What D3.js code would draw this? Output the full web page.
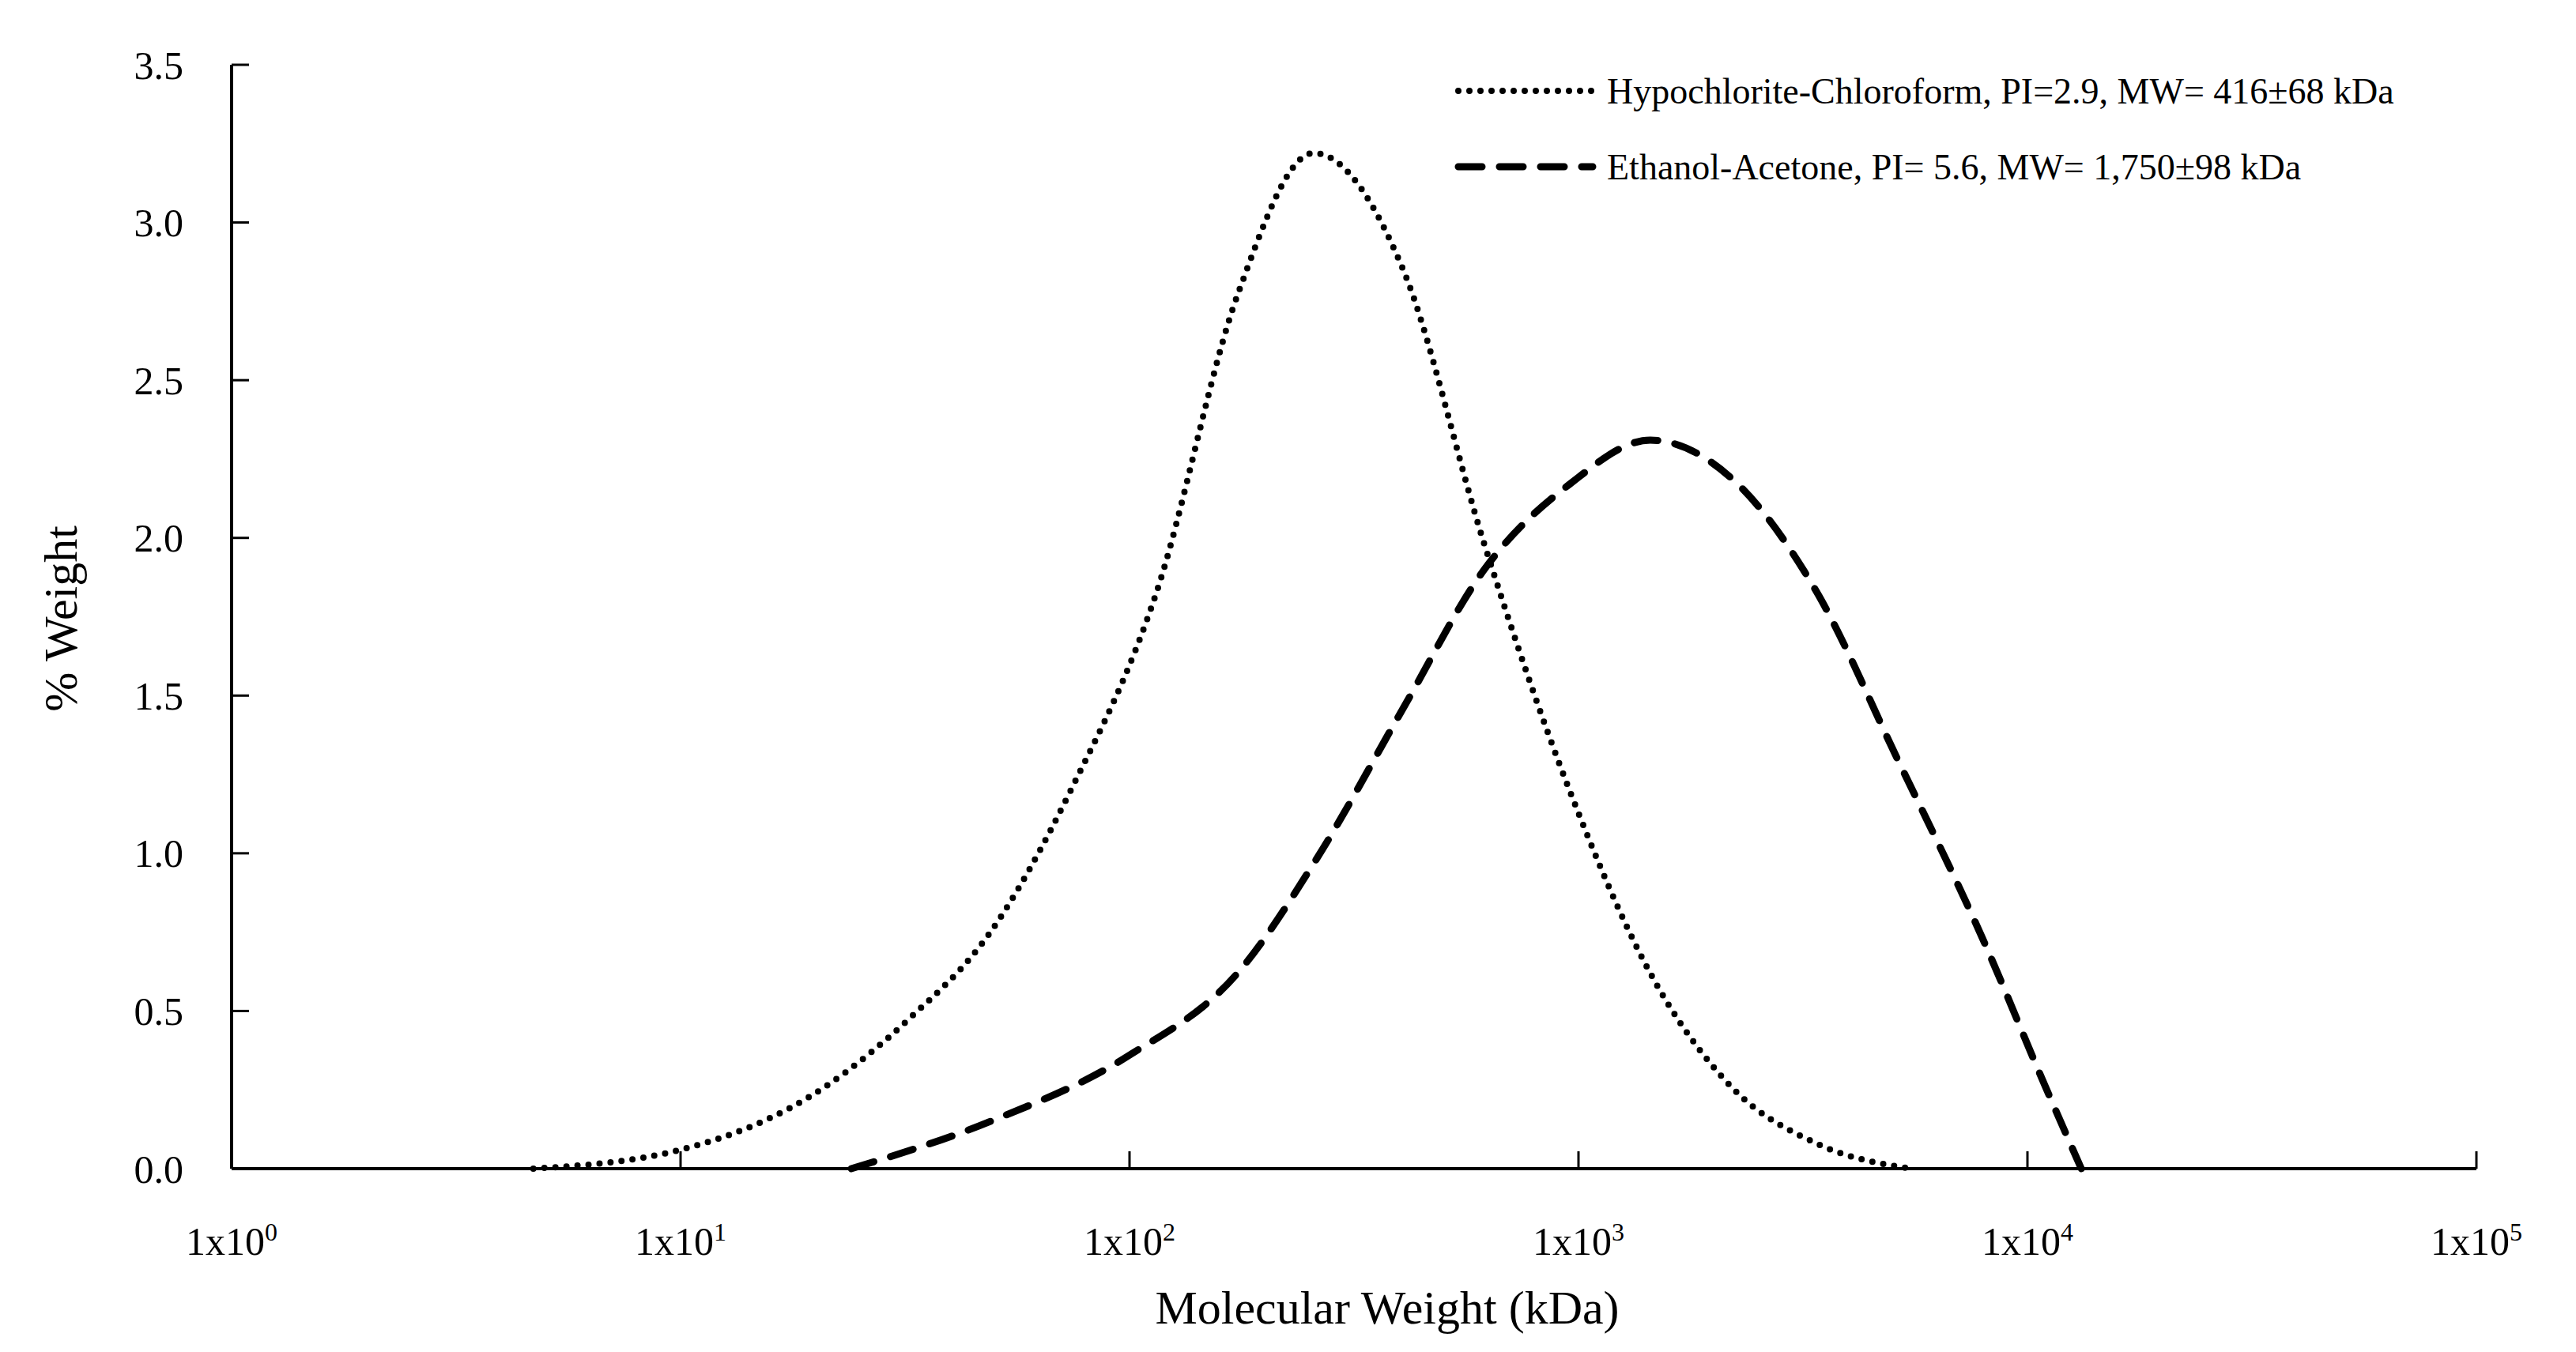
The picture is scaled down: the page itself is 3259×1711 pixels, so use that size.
<!DOCTYPE html>
<html><head><meta charset="utf-8">
<script src="https://cdn.jsdelivr.net/npm/d3@7"></script>
<style>body{margin:0;background:#fff}svg{display:block}</style>
</head><body><svg id="c"></svg>
<script>
// Hypochlorite-Chloroform (dotted)
const hypoMW = [4.7, 10, 21, 32, 49, 74, 115, 174, 257, 407, 617, 955, 1445, 2188, 3388, 5495];
const hypoW = [0, 0.06, 0.26, 0.47, 0.75, 1.2, 1.83, 2.77, 3.22, 2.85, 1.98, 1.2, 0.62, 0.26, 0.08, 0];
// Ethanol-Acetone (dashed)
const ethMW = [24, 49, 100, 174, 263, 407, 617, 955, 1445, 2188, 3388, 5129, 7943, 10965, 13183];
const ethW = [0, 0.15, 0.36, 0.62, 0.99, 1.46, 1.9, 2.17, 2.31, 2.19, 1.83, 1.3, 0.73, 0.26, 0];
const xTicks = [1, 10, 100, 1000, 10000, 100000];
const yTicks = [0, 0.5, 1, 1.5, 2, 2.5, 3, 3.5];
const legendLabels = ["Hypochlorite-Chloroform, PI=2.9, MW= 416±68 kDa", "Ethanol-Acetone, PI= 5.6, MW= 1,750±98 kDa"];

const W = 3259, H = 1711;
const font = "'Liberation Serif', 'DejaVu Serif', serif";
const svg = d3.select("#c").attr("width", W).attr("height", H);
const x = d3.scaleLog().domain([1, 100000]).range([293, 3133]);
const y = d3.scaleLinear().domain([0, 3.5]).range([1479, 82]);

const g = svg.append("g");
g.append("line").attr("x1", x(1)).attr("x2", x(1)).attr("y1", y(0)).attr("y2", y(3.5)).attr("stroke", "#000").attr("stroke-width", 4);
g.append("line").attr("x1", x(1)).attr("x2", x(100000)).attr("y1", y(0)).attr("y2", y(0)).attr("stroke", "#000").attr("stroke-width", 4);
g.selectAll(".yt").data(yTicks).enter().append("line")
  .attr("x1", x(1)).attr("x2", x(1) + 22).attr("y1", d => y(d)).attr("y2", d => y(d))
  .attr("stroke", "#000").attr("stroke-width", 3);
g.selectAll(".ytl").data(yTicks).enter().append("text")
  .attr("x", 232).attr("y", d => y(d)).attr("dy", "0.35em").attr("text-anchor", "end")
  .style("font-family", font).style("font-size", "50px").text(d => d.toFixed(1));
g.selectAll(".xt").data(xTicks).enter().append("line")
  .attr("x1", d => x(d)).attr("x2", d => x(d)).attr("y1", y(0)).attr("y2", y(0) - 22)
  .attr("stroke", "#000").attr("stroke-width", 3);
const xl = g.selectAll(".xtl").data(xTicks).enter().append("text")
  .attr("x", d => x(d)).attr("y", 1588).attr("text-anchor", "middle")
  .style("font-family", font).style("font-size", "50px");
xl.append("tspan").text("1x10");
xl.append("tspan").attr("dy", -18).style("font-size", "32px").text(d => Math.round(Math.log10(d)));

svg.append("text").attr("x", 1755).attr("y", 1675).attr("text-anchor", "middle")
  .style("font-family", font).style("font-size", "60px").text("Molecular Weight (kDa)");
svg.append("text").attr("transform", "translate(97,783) rotate(-90)").attr("text-anchor", "middle")
  .style("font-family", font).style("font-size", "60px").text("% Weight");

const line = d3.line().x(d => x(d[0])).y(d => y(d[1])).curve(d3.curveMonotoneX);
const styles = [
  { w: 8, dash: "0 14", data: d3.zip(hypoMW, hypoW) },
  { w: 9, dash: "30 22", data: d3.zip(ethMW, ethW) }
];
styles.forEach(s => {
  svg.append("path").attr("d", line(s.data)).attr("fill", "none").attr("stroke", "#000")
    .attr("stroke-width", s.w).attr("stroke-dasharray", s.dash).attr("stroke-linecap", "round");
});

const lg = svg.append("g");
legendLabels.forEach((t, i) => {
  const ly = 115 + i * 96;
  lg.append("line").attr("x1", 1845).attr("x2", 2015).attr("y1", ly).attr("y2", ly)
    .attr("stroke", "#000").attr("stroke-width", styles[i].w).attr("stroke-dasharray", styles[i].dash)
    .attr("stroke-linecap", "round");
  lg.append("text").attr("x", 2033).attr("y", ly).attr("dy", "0.35em")
    .style("font-family", font).style("font-size", "46px").text(t);
});
</script></body></html>
